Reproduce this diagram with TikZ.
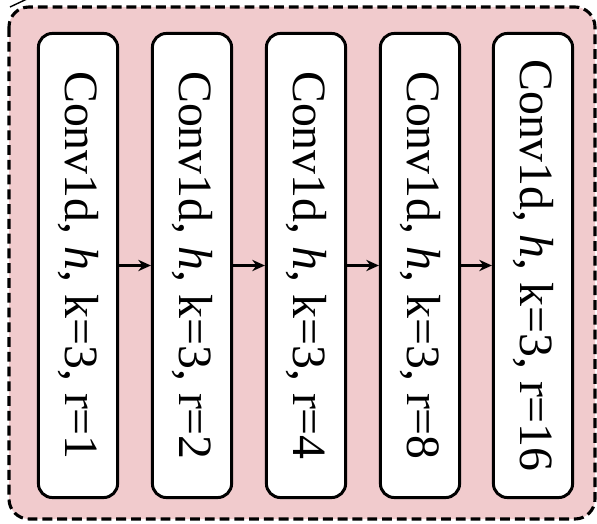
\documentclass[tikz,border=0pt]{standalone}
\usepackage{fontspec}
\setmainfont{Liberation Serif}
\usetikzlibrary{arrows.meta, positioning}

\definecolor{blockpink}{RGB}{241,203,205}

\begin{document}
\begin{tikzpicture}[x=0.025cm, y=-0.025cm,
  convbox/.style={draw, line width=2.1pt, fill=white, rounded corners=0.35cm,
    rotate=-90, minimum width=11.6cm, minimum height=1.98cm, inner sep=0pt,
    font=\fontsize{34}{40}\selectfont},
  link/.style={-{Stealth[length=9pt, width=8pt]}, line width=1.8pt}]
\useasboundingbox (0,0) rectangle (597,524);

% Residual block
\draw[line width=2.2pt, dash pattern=on 7pt off 3.5pt, fill=blockpink,
  rounded corners=0.5cm] (9,7) rectangle (595,519);
\coordinate (cut) at (27,-1);
\draw[line width=1pt] (10,7) -- (cut);

% Dilated convolutions
\foreach \i/\r/\x in {1/1/78, 2/2/192, 3/4/306, 4/8/420, 5/16/533} {
  \node[convbox] (conv\i) at (\x,265.5) {Conv1d, \textit{h}, k=3, r=\r};
}

% Links
\foreach \i [evaluate=\i as \j using int(\i+1)] in {1,...,4} {
  \draw[link] (conv\i.north) -- (conv\j.south);
}
\end{tikzpicture}
\end{document}
